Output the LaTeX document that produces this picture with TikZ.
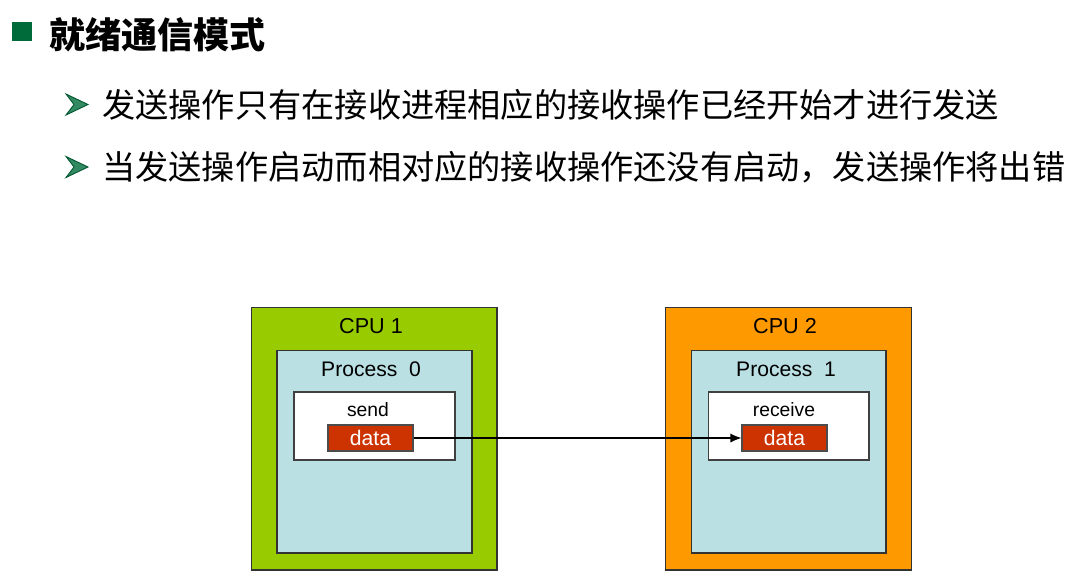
\documentclass[tikz,border=0pt]{standalone}
\usepackage{fontspec}
\setmainfont{Liberation Sans}
\newfontfamily\cjk{Noto Sans CJK SC}
\usetikzlibrary{arrows.meta}
\definecolor{cpugreen}{HTML}{99CC00}
\definecolor{cpuorange}{HTML}{FF9900}
\definecolor{procblue}{HTML}{BAE0E3}
\definecolor{datared}{HTML}{CC3300}
\definecolor{markgreen}{HTML}{006B3A}
\begin{document}
\begin{tikzpicture}[x=0.02cm,y=-0.02cm,
    cpubox/.style={draw=black!80, line width=0.6pt, minimum width=4.92cm, minimum height=5.26cm, inner sep=0},
    procbox/.style={draw=black!80, line width=0.6pt, fill=procblue, minimum width=3.9cm, minimum height=4.06cm, inner sep=0},
    opbox/.style={draw=black!75, line width=0.6pt, fill=white, minimum width=3.22cm, minimum height=1.36cm, inner sep=0},
    databox/.style={draw=black!70, line width=0.6pt, fill=datared, text=white, font=\fontsize{12}{14}\selectfont,
        minimum width=1.7cm, minimum height=0.52cm, inner sep=0},
    lbl/.style={inner sep=0, font=\fontsize{12.3}{14}\selectfont},
    cnline/.style={anchor=west, inner sep=0, font=\cjk\fontsize{18.9}{22}\selectfont}]
    \useasboundingbox (0,0) rectangle (1091,576);
    % title
    \fill[markgreen] (12,22) rectangle (32,41);
    \node[anchor=west, inner sep=0, font=\cjk\bfseries\fontsize{20.5}{24}\selectfont] (title) at (49,35) {就绪通信模式};
    \foreach \yy in {104.5,167} {
        \fill[markgreen!80!white, draw=markgreen!80!black, line width=0.5pt]
            (66,\yy-10.5) -- (88,\yy) -- (66,\yy+10.5) -- (74,\yy) -- cycle;
    }
    \node[cnline] (line1) at (102,104.5) {发送操作只有在接收进程相应的接收操作已经开始才进行发送};
    \node[cnline] (line2) at (102,167) {当发送操作启动而相对应的接收操作还没有启动，发送操作将出错};
    % left side
    \node[cpubox, fill=cpugreen] (cpu1) at (374,438.5) {};
    \node[procbox] (proc0) at (374.5,451.5) {};
    \node[opbox] (send) at (374.5,426) {};
    \node[databox] (data1) at (370.5,438) {data};
    \node[lbl] (cpu1lbl) at (371,326) {CPU 1};
    \node[lbl, font=\fontsize{12}{14}\selectfont] (proc0lbl) at (371,369) {Process\ \ 0};
    \node[lbl, font=\fontsize{11}{12}\selectfont] (sendlbl) at (368,410) {send};
    % right side
    \node[cpubox, fill=cpuorange] (cpu2) at (788.5,438.5) {};
    \node[procbox] (proc1) at (788.5,451.5) {};
    \node[opbox] (recv) at (788.5,426) {};
    \node[databox] (data2) at (784.5,438) {data};
    \node[lbl] (cpu2lbl) at (785,326) {CPU 2};
    \node[lbl, font=\fontsize{12}{14}\selectfont] (proc1lbl) at (786,369) {Process\ \ 1};
    \node[lbl, font=\fontsize{11}{12}\selectfont] (recvlbl) at (784,410) {receive};
    \draw[-{Latex[length=2.2mm,width=1.8mm]}, line width=0.6pt] (data1.east) -- (data2.west);
\end{tikzpicture}
\end{document}
